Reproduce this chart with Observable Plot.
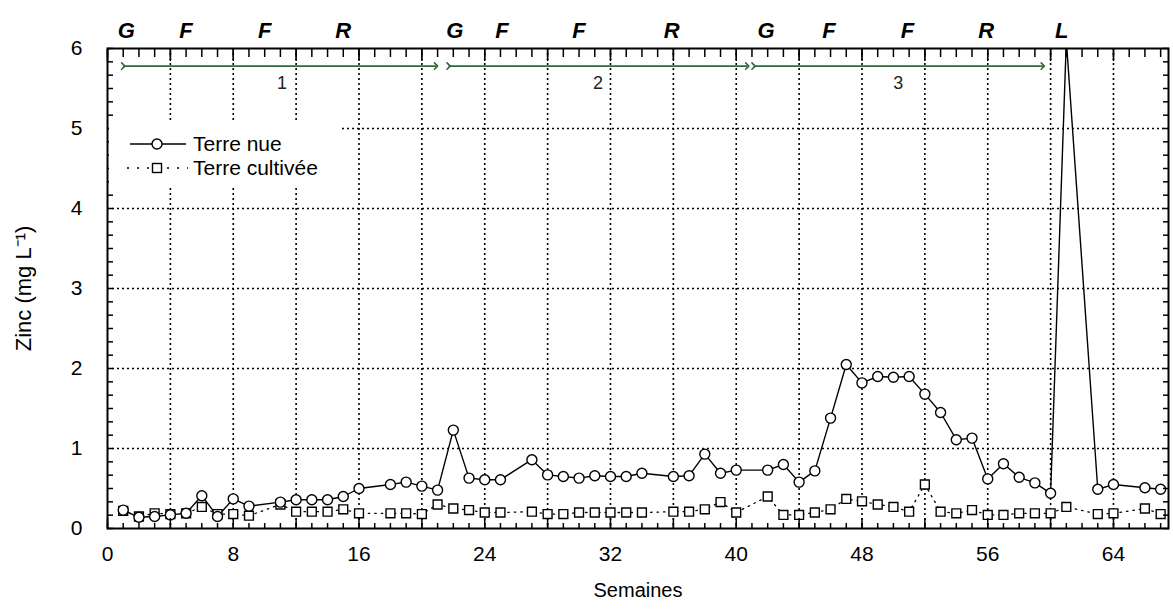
<!DOCTYPE html>
<html><head><meta charset="utf-8">
<script src="https://cdn.jsdelivr.net/npm/d3@7"></script>
<script src="https://cdn.jsdelivr.net/npm/@observablehq/plot@0.6"></script>
<style>body{margin:0;background:#fff} #chart svg{display:block}</style>
</head><body><div id="chart"></div>
<script>
// ---- Data ----
const semaines = [1,2,3,4,5,6,7,8,9, 11,12,13,14,15,16, 18,19,20,21,22,23,24,25, 27,28,29,30,31,32,33,34, 36,37,38,39,40, 42,43,44,45,46,47,48,49,50,51,52,53,54,55,56,57,58,59,60,61, 63,64, 66,67];
const zincTerreNue = [0.23,0.14,0.15,0.17,0.19,0.41,0.15,0.37,0.28, 0.33,0.36,0.36,0.36,0.40,0.50, 0.55,0.58,0.53,0.48,1.23,0.63,0.61,0.61, 0.86,0.67,0.65,0.63,0.66,0.65,0.65,0.69, 0.65,0.66,0.93,0.69,0.73, 0.73,0.80,0.58,0.72,1.38,2.05,1.82,1.90,1.89,1.90,1.68,1.45,1.11,1.13,0.62,0.81,0.64,0.57,0.44,6.1, 0.49,0.55, 0.51,0.49];
const zincTerreCultivee = [0.22,0.15,0.19,0.18,0.19,0.27,0.18,0.18,0.16, 0.30,0.21,0.21,0.21,0.24,0.19, 0.19,0.19,0.18,0.30,0.25,0.23,0.20,0.20, 0.21,0.18,0.18,0.20,0.20,0.20,0.20,0.20, 0.21,0.21,0.24,0.33,0.20, 0.40,0.17,0.17,0.20,0.24,0.37,0.34,0.30,0.27,0.21,0.55,0.21,0.19,0.23,0.17,0.17,0.19,0.19,0.19,0.27, 0.18,0.19, 0.25,0.18];

const phases = ["G","F","F","R","G","F","F","R","G","F","F","R","L"];
const phaseSemaines = [1.2,5,10,15,22.1,25.1,30,35.9,41.9,45.9,50.9,55.9,60.7];

const cycles = ["1","2","3"];
const cycleDebut = [1.0, 21.7, 41.1];
const cycleFin = [20.9, 40.7, 59.5];
const cycleCentre = [11.1, 31.2, 50.3];
const cycleNiveau = 5.78;
const cycleLabelNiveau = 5.56;

const xTickLabels = [0,8,16,24,32,40,48,56,64];
const yTickLabels = [0,1,2,3,4,5,6];
const xGrid = [4,8,12,16,20,24,28,32,36,40,44,48,52,56,60,64];
const yGrid = [1,2,3,4,5];

const series = ["Terre nue", "Terre cultivée"];
const xLabel = "Semaines";
const yLabel = "Zinc (mg L⁻¹)";

// ---- Tables built from the arrays ----
const nue = semaines.map((s, i) => ({semaine: s, zinc: zincTerreNue[i]}));
const cult = semaines.map((s, i) => ({semaine: s, zinc: zincTerreCultivee[i]}));
const phaseData = phases.map((p, i) => ({phase: p, semaine: phaseSemaines[i]}));
const cycleData = cycles.map((c, i) => ({cycle: c, debut: cycleDebut[i], fin: cycleFin[i], centre: cycleCentre[i]}));
const xMinor = d3.range(0, 68, 1);
const xMajor = d3.range(0, 68, 4);
const yMinor = d3.range(0, 37).map(i => i / 6);

const font = "'Liberation Sans', Arial, sans-serif";
const dotted = {stroke: "black", strokeOpacity: 1, strokeWidth: 1.6, strokeDasharray: "2,3"};

const chart = Plot.plot({
  width: 1173, height: 610,
  marginLeft: 107, marginRight: 5, marginTop: 48, marginBottom: 82,
  x: {domain: [0, 67.5]},
  y: {domain: [0, 6]},
  style: {fontFamily: font, background: "white", color: "black"},
  marks: [
    Plot.gridX({ticks: xGrid, ...dotted}),
    Plot.gridY({ticks: yGrid, ...dotted}),
    Plot.line(cult, {x: "semaine", y: "zinc", stroke: "black", strokeWidth: 1.3, strokeDasharray: "1.5,5", clip: true}),
    Plot.line(nue, {x: "semaine", y: "zinc", stroke: "black", strokeWidth: 1.4, clip: true}),
    Plot.dot(cult, {x: "semaine", y: "zinc", symbol: "square", r: 5, fill: "white", stroke: "black", strokeWidth: 1.4, clip: true}),
    Plot.dot(nue, {x: "semaine", y: "zinc", symbol: "circle", r: 5, fill: "white", stroke: "black", strokeWidth: 1.4, clip: true}),
    Plot.frame({stroke: "black", strokeWidth: 2}),
    // inward ticks on four sides
    Plot.axisX({ticks: xMinor, anchor: "bottom", tickSize: -5, fill: "none", label: null, strokeWidth: 1.5}),
    Plot.axisX({ticks: xMajor, anchor: "bottom", tickSize: -10, fill: "none", label: null, strokeWidth: 1.5}),
    Plot.axisX({ticks: xMinor, anchor: "top", tickSize: -8, fill: "none", label: null, strokeWidth: 1.5}),
    Plot.axisX({ticks: xMajor, anchor: "top", tickSize: -12, fill: "none", label: null, strokeWidth: 1.5}),
    Plot.axisY({ticks: yMinor, anchor: "left", tickSize: -6, fill: "none", label: null, strokeWidth: 1.5}),
    Plot.axisY({ticks: yMinor, anchor: "right", tickSize: -6, fill: "none", label: null, strokeWidth: 1.5}),
    Plot.axisX({ticks: xTickLabels, tickFormat: d3.format("d"), anchor: "bottom", tickSize: 0, tickPadding: 18, label: null, fontSize: 21}),
    Plot.axisY({ticks: yTickLabels, tickFormat: d3.format("d"), anchor: "left", tickSize: 0, tickPadding: 25, label: null, fontSize: 21}),
    // axis titles
    Plot.text([xLabel], {frameAnchor: "bottom", dy: 68, fontSize: 20, fill: "black"}),
    Plot.text([yLabel], {frameAnchor: "left", dx: -84, rotate: -90, textAnchor: "middle", fontSize: 22, fill: "black"}),
    // phase letters above the plot
    Plot.text(phaseData, {x: "semaine", text: "phase", frameAnchor: "top", dy: -26, fontSize: 22, fontWeight: "bold", fontStyle: "italic", fill: "black"}),
    // cycle arrows
    Plot.link(cycleData, {x1: "debut", x2: "fin", y1: cycleNiveau, y2: cycleNiveau, stroke: "#2e6a3c", strokeWidth: 1.6, markerStart: "arrow", markerEnd: "arrow"}),
    Plot.text(cycleData, {x: "centre", y: cycleLabelNiveau, text: "cycle", fontSize: 18, fill: "#222"})
  ]
});
document.getElementById("chart").appendChild(chart);

// ---- Legend (white box over the grid) ----
const svg = d3.select(chart);
const lg = svg.append("g").attr("font-family", font).attr("font-size", 21).attr("text-anchor", "start");
lg.append("rect").attr("x", 109).attr("y", 120).attr("width", 232).attr("height", 68).attr("fill", "white");
lg.append("line").attr("x1", 130).attr("x2", 186).attr("y1", 144).attr("y2", 144).attr("stroke", "black").attr("stroke-width", 1.4);
lg.append("circle").attr("cx", 157).attr("cy", 144).attr("r", 5).attr("fill", "white").attr("stroke", "black").attr("stroke-width", 1.4);
lg.append("text").attr("x", 193).attr("y", 144).attr("dy", "0.35em").attr("fill", "black").text(series[0]);
lg.append("line").attr("x1", 127).attr("x2", 188).attr("y1", 168).attr("y2", 168).attr("stroke", "black").attr("stroke-width", 1.6).attr("stroke-dasharray", "2,8");
lg.append("rect").attr("x", 152.5).attr("y", 163.5).attr("width", 9).attr("height", 9).attr("fill", "white").attr("stroke", "black").attr("stroke-width", 1.4);
lg.append("text").attr("x", 193).attr("y", 168).attr("dy", "0.35em").attr("fill", "black").text(series[1]);
</script>
</body></html>
